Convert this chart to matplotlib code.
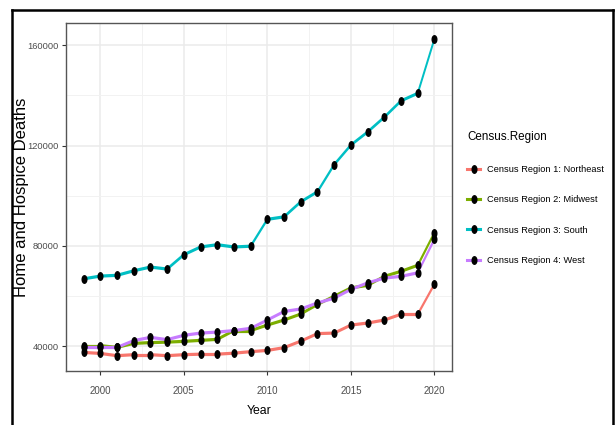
import numpy as np
import matplotlib
matplotlib.use('Agg')
import matplotlib.pyplot as plt
from matplotlib.path import Path
from matplotlib.lines import Line2D
from matplotlib.ticker import MultipleLocator

plt.rcParams['font.family'] = ['Liberation Sans', 'DejaVu Sans']

years = list(range(1999, 2021))
northeast = [37600, 37200, 36300, 36700, 36700, 36300, 36700, 36900, 36900, 37300, 37900,
             38400, 39500, 42100, 45100, 45300, 48500, 49300, 50500, 52800, 52800, 64800]
midwest = [40300, 40300, 39600, 41200, 41500, 41700, 42000, 42400, 42800, 46300, 46300,
           48500, 50500, 52900, 56700, 60000, 63300, 64300, 67900, 69900, 72300, 85300]
south = [66900, 68000, 68300, 70100, 71600, 70800, 76500, 79600, 80500, 79600, 79900,
         90600, 91600, 97600, 101600, 112400, 120200, 125400, 131300, 137800, 140800, 162500]
west = [39600, 39600, 39600, 42300, 43600, 42700, 44400, 45300, 45700, 46300, 47200,
        50500, 53900, 54900, 57300, 59200, 62700, 65300, 67200, 67900, 69300, 82700]

regions = ['Census Region 1: Northeast', 'Census Region 2: Midwest',
           'Census Region 3: South', 'Census Region 4: West']
colors = ['#F8766D', '#7CAE00', '#00BFC4', '#C77CFF']
series = [northeast, midwest, south, west]

# slightly tall dot used for the points
t = np.linspace(0, 2 * np.pi, 41)
dot = Path(np.column_stack([0.62 * np.cos(t), np.sin(t)]), closed=True)

fig = plt.figure(figsize=(6.15, 4.25), dpi=100)
ax = fig.add_axes([66 / 615, 54 / 425, 386 / 615, 348 / 425])
ax.set_xlim(1997.95, 2021.05)
ax.set_ylim(30200, 168800)

ax.xaxis.set_major_locator(MultipleLocator(5))
ax.xaxis.set_minor_locator(MultipleLocator(2.5))
ax.yaxis.set_major_locator(MultipleLocator(40000))
ax.yaxis.set_minor_locator(MultipleLocator(20000))
ax.grid(which='major', color='#EBEBEB', lw=1.1)
ax.grid(which='minor', color='#F2F2F2', lw=0.7)
ax.set_axisbelow(True)
for s in ax.spines.values():
    s.set_color('#555555')
    s.set_linewidth(1.0)
ax.tick_params(which='major', length=3, width=0.8, color='#333333',
               labelcolor='#4D4D4D', labelsize=6.7, pad=2.2)
ax.tick_params(which='minor', length=0)
ax.tick_params(axis='x', labelsize=7.0, pad=7.5)

# thinner strokes on steep segments
squeeze = 0.57
lw = 2.3
for vals, col in zip(series, colors):
    pts = ax.transData.transform(np.column_stack([years, vals]))
    d = np.diff(pts, axis=0)
    w = lw * np.sqrt(d[:, 0] ** 2 + (squeeze * d[:, 1]) ** 2) / np.hypot(d[:, 0], d[:, 1])
    for i in range(len(years) - 1):
        ax.plot(years[i:i + 2], vals[i:i + 2], color=col, lw=w[i],
                solid_capstyle='round', zorder=2)
for vals in series:
    ax.plot(years, vals, ls='none', marker=dot, ms=5.4, color='black', zorder=3)

ax.set_xlabel('Year', fontsize=8.8, color='black')
ax.xaxis.set_label_coords(0.5, -0.098)
ax.set_ylabel('Home and Hospice Deaths', fontsize=12, color='black')
ax.yaxis.set_label_coords(-0.096, 0.5)

handles = [Line2D([], [], color=c, lw=2.2, marker=dot, ms=5.4, mfc='black', mec='black')
           for c in colors]
leg = fig.legend(handles, regions, title='Census.Region', loc='upper left',
                 bbox_to_anchor=(459 / 615, 1 - 123 / 425), frameon=False,
                 fontsize=6.7, title_fontsize=8.4, handlelength=1.4,
                 handletextpad=0.7, labelspacing=2.3, alignment='left')

# black frame around the figure
for xs, ys in [([12, 12], [0, 415]), ([12, 613], [415, 415]), ([613, 613], [415, 0])]:
    fig.add_artist(Line2D(np.array(xs) / 615, np.array(ys) / 425, color='black',
                          lw=1.8, transform=fig.transFigure))

fig.savefig('out.png', dpi=100)
